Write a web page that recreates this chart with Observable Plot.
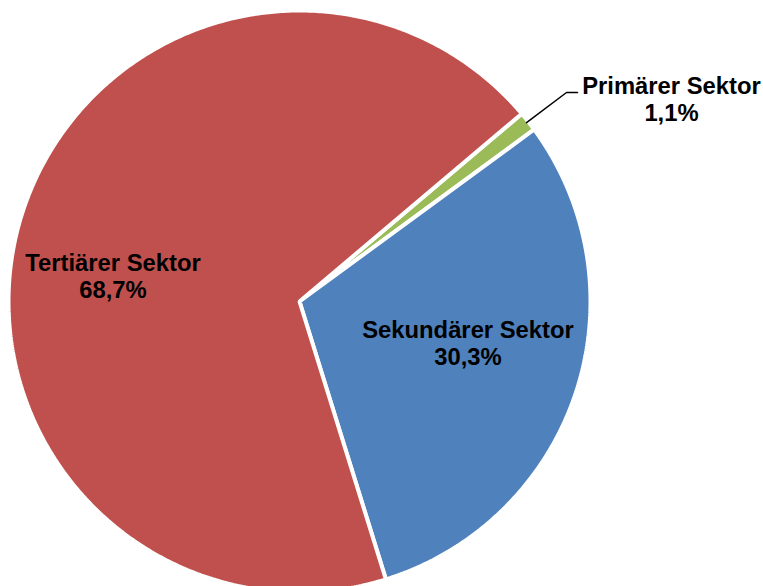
<!DOCTYPE html>
<html><head><meta charset="utf-8">
<script src="https://cdn.jsdelivr.net/npm/d3@7"></script>
<script src="https://cdn.jsdelivr.net/npm/@observablehq/plot@0.6"></script>
<style>html,body{margin:0;padding:0;background:#fff;overflow:hidden}</style>
</head><body><div id="chart"></div>
<script>
// Data
const sectors = ["Primärer Sektor", "Sekundärer Sektor", "Tertiärer Sektor"];
const shares = [1.1, 30.3, 68.7];
const shareLabels = ["1,1%", "30,3%", "68,7%"];
const colors = ["#9BBB59", "#4F81BD", "#C0504D"];

// Layout (pixels)
const W = 763, H = 586, CX = 299, CY = 301, R = 289;
const startDeg = 49.8;
const strokeW = 4;
const labelPx = [[671, 98], [467.5, 342.5], [112.5, 275]];
const elbowPx = [[566, 92], [577, 92]];

const toU = px => (px - CX) / R;
const toV = py => (CY - py) / R;

const total = d3.sum(shares);
const rDraw = (R + strokeW / 2) / R;
const pts = [];
const mids = [];
let a = startDeg;
sectors.forEach((s, i) => {
  const span = shares[i] / total * 360;
  const a0 = a, a1 = a + span;
  pts.push({sector: s, x: 0, y: 0});
  const n = Math.max(4, Math.ceil(span * 2));
  for (let k = 0; k <= n; k++) {
    const t = (a0 + (a1 - a0) * k / n) * Math.PI / 180;
    pts.push({sector: s, x: rDraw * Math.sin(t), y: rDraw * Math.cos(t)});
  }
  mids.push((a0 + a1) / 2);
  a = a1;
});

const labels = sectors.map((s, i) => ({
  text: s + "\n" + shareLabels[i],
  x: toU(labelPx[i][0]),
  y: toV(labelPx[i][1])
}));

const gm = mids[0] * Math.PI / 180;
const leader = [
  {x: 1.0 * Math.sin(gm), y: 1.0 * Math.cos(gm)},
  ...elbowPx.map(([px, py]) => ({x: toU(px), y: toV(py)}))
];

const chart = Plot.plot({
  width: W, height: H, margin: 0,
  style: {background: "#fff", overflow: "hidden"},
  x: {domain: [toU(0), toU(W)], axis: null},
  y: {domain: [toV(H), toV(0)], axis: null},
  color: {domain: sectors, range: colors},
  marks: [
    Plot.line(pts, {x: "x", y: "y", z: "sector", fill: "sector", stroke: "white",
      strokeWidth: strokeW, strokeLinejoin: "miter", curve: "linear-closed"}),
    Plot.line(leader, {x: "x", y: "y", stroke: "black", strokeWidth: 1.5}),
    Plot.text(labels, {x: "x", y: "y", text: "text", fontSize: 23.8, fontWeight: "bold",
      fill: "black", lineHeight: 1.14, textAnchor: "middle",
      fontFamily: "Arial, 'Liberation Sans', sans-serif"})
  ]
});
document.getElementById("chart").appendChild(chart);
</script>
</body></html>
